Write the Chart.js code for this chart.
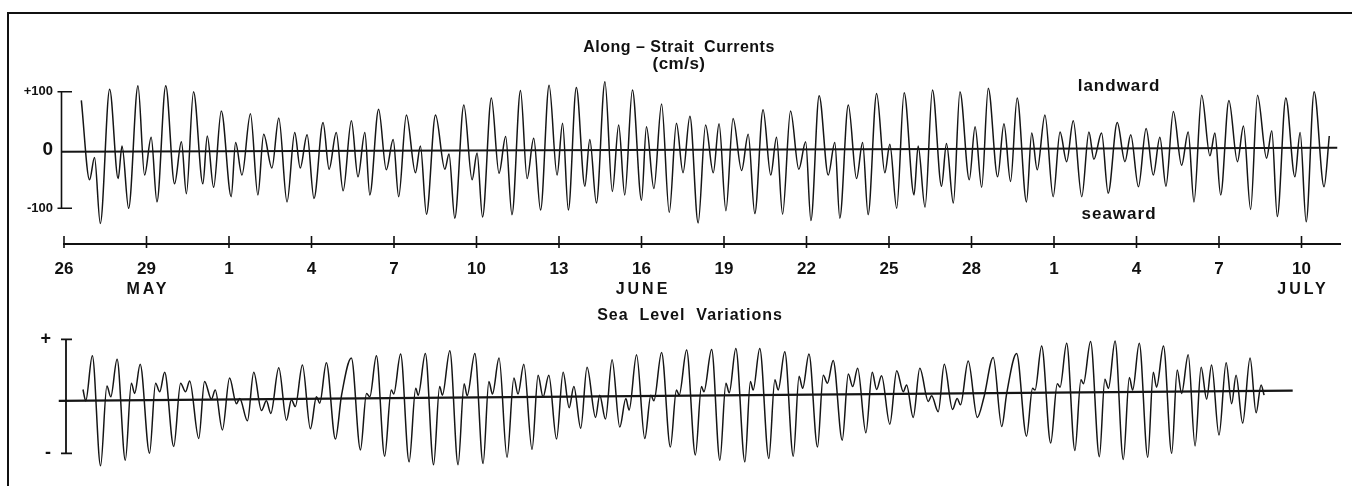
<!DOCTYPE html>
<html>
<head>
<meta charset="utf-8">
<script src="https://cdn.jsdelivr.net/npm/chart.js@4.4.0/dist/chart.umd.min.js"></script>
<style>
  html, body { margin: 0; padding: 0; background: #fff; }
  body { width: 1352px; height: 486px; position: relative; overflow: hidden; }
  #frame { position: absolute; left: 7px; top: 12px; width: 1343px; height: 472px; border-top: 2px solid #111; border-left: 2px solid #111; }
  #topBox { position: absolute; left: 0; top: 0; width: 1352px; height: 300px; }
  #seaBox { position: absolute; left: 0; top: 300px; width: 1352px; height: 200px; }
</style>
</head>
<body>
<div id="frame"></div>
<div id="topBox"><canvas id="currentChart"></canvas></div>
<div id="seaBox"><canvas id="seaChart"></canvas></div>
<script>
// Along-strait current, turning points (days after 26 May, cm/s)
var currentDays = [0.63,0.93,1.11,1.32,1.66,1.97,2.11,2.35,2.69,2.93,3.17,3.38,3.70,4.02,4.27,4.45,4.71,5.05,5.21,5.44,
  5.72,6.08,6.24,6.47,6.78,7.05,7.26,7.56,7.81,8.11,8.39,8.59,8.84,9.09,9.42,9.64,9.90,10.15,10.45,10.69,
  10.94,11.12,11.44,11.72,11.97,12.17,12.45,12.78,12.96,13.18,13.51,13.85,14.00,14.21,14.54,14.84,15.02,15.22,15.54,15.82,
  16.06,16.29,16.60,16.84,17.08,17.33,17.64,17.93,18.13,18.34,18.63,18.94,19.12,19.36,19.67,19.94,20.17,20.39,20.67,21.00,
  21.18,21.45,21.73,22.01,22.27,22.51,22.76,23.06,23.33,23.61,23.82,24.07,24.33,24.64,24.88,25.12,25.42,25.70,25.91,26.13,
  26.42,26.72,26.97,27.16,27.46,27.79,28.03,28.21,28.52,28.82,29.04,29.24,29.55,29.85,30.03,30.28,30.55,30.91,31.06,31.31,
  31.58,31.91,32.09,32.34,32.58,32.92,33.13,33.37,33.61,33.95,34.18,34.42,34.66,35.00,35.19,35.39,35.67,35.97,36.22,36.46,
  36.70,37.01,37.27,37.45,37.73,37.97,38.30,38.58,38.79,39.07,39.35,39.61,39.85,40.07,40.34,40.64,40.88,41.09,41.37,41.67,
  41.85,42.06,42.36,42.67,42.89,43.15,43.40,43.73,43.92,44.12,44.43,44.76,44.95,45.17,45.46,45.82,46.01];
var currentSpeeds = [85,-51,-13,-126,104,-49,7,-100,110,-43,22,-89,110,-58,14,-75,100,-58,24,-64,
  67,-80,13,-43,62,-77,27,-31,55,-89,30,-31,26,-83,47,-33,30,-70,50,-46,
  30,-77,70,-34,18,-80,60,-39,7,-110,60,-33,-7,-117,77,-51,-5,-115,89,-40,
  23,-111,102,-49,20,-103,111,-43,46,-103,107,-62,18,-91,117,-71,43,-77,103,-86,
  40,-66,79,-107,46,-39,58,-125,43,-39,45,-104,54,-35,27,-109,69,-43,22,-110,
  67,-33,14,-121,93,-43,13,-117,77,-49,13,-111,97,-39,10,-100,98,-77,7,-98,
  103,-62,11,-91,100,-51,40,-64,106,-46,45,-54,89,-89,29,-34,60,-80,31,-20,
  50,-80,31,-16,29,-74,47,-20,26,-63,37,-43,22,-62,66,-26,31,-89,94,-10,
  29,-77,85,-20,41,-102,94,-14,33,-114,89,-46,30,-123,100,-63,24];
var currentZeroDays = [-0.1, 46.3];
var currentZeroSpeeds = [-3, 4];

// Sea level, turning points (days after 26 May, units of the +/- bar)
var seaDays = [0.69,0.79,1.03,1.33,1.56,1.70,1.93,2.23,2.45,2.57,2.77,3.11,3.33,3.48,3.66,3.99,4.24,4.42,4.57,4.90,
  5.11,5.36,5.50,5.76,6.02,6.27,6.39,6.67,6.90,7.18,7.36,7.52,7.81,8.09,8.27,8.41,8.67,8.96,9.18,9.30,
  9.54,9.87,10.09,10.45,10.78,11.00,11.12,11.36,11.66,11.90,11.99,12.24,12.55,12.79,12.88,13.14,13.44,13.66,13.76,14.03,
  14.33,14.55,14.66,14.94,15.24,15.45,15.58,15.82,16.11,16.36,16.51,16.72,17.02,17.24,17.42,17.63,17.91,18.15,18.37,18.54,
  18.79,19.02,19.33,19.48,19.69,19.93,20.21,20.43,20.55,20.82,21.12,21.34,21.45,21.73,22.05,22.27,22.37,22.64,22.96,23.18,
  23.27,23.55,23.85,24.07,24.19,24.43,24.76,24.96,25.06,25.30,25.63,25.85,25.97,26.21,26.52,26.73,26.86,27.09,27.40,27.61,
  27.76,27.97,28.30,28.52,28.68,28.86,29.16,29.39,29.55,29.73,30.03,30.28,30.52,30.64,30.88,31.12,31.43,31.55,31.79,32.01,
  32.31,32.48,32.60,32.88,33.21,33.45,33.79,34.10,34.28,34.64,35.00,35.22,35.31,35.55,35.88,36.12,36.22,36.46,36.76,36.98,
  37.07,37.33,37.65,37.85,37.98,38.22,38.52,38.74,38.86,39.10,39.41,39.61,39.73,39.98,40.28,40.48,40.64,40.88,41.13,41.35,
  41.55,41.73,42.00,42.26,42.46,42.62,42.86,43.13,43.35,43.53,43.64];
var seaLevels = [0.12,-0.08,0.71,-1.22,0.18,-0.01,0.65,-1.12,0.23,0.05,0.56,-1.00,0.23,0.08,0.42,-0.88,0.23,0.08,0.27,-0.74,
  0.26,-0.05,0.11,-0.59,0.32,-0.13,-0.04,-0.43,0.42,-0.25,-0.08,-0.30,0.50,-0.42,-0.06,-0.18,0.55,-0.57,-0.01,-0.12,
  0.59,-0.75,0.01,0.67,-0.94,0.05,-0.01,0.71,-1.05,0.11,0.04,0.74,-1.15,0.14,0.02,0.75,-1.20,0.17,0.02,0.80,
  -1.20,0.22,0.01,0.75,-1.18,0.26,0.04,0.67,-1.07,0.32,0.04,0.56,-0.93,0.37,-0.01,0.37,-0.75,0.42,-0.20,0.17,
  -0.56,0.51,-0.37,0.02,-0.40,0.64,-0.54,-0.04,-0.24,0.73,-0.74,0.02,-0.08,0.77,-0.89,0.11,0.02,0.81,-1.03,0.17,
  0.08,0.82,-1.12,0.23,0.06,0.84,-1.15,0.26,0.11,0.84,-1.09,0.29,0.11,0.78,-1.05,0.35,0.14,0.74,-0.89,0.37,
  0.23,0.63,-0.77,0.39,0.17,0.49,-0.64,0.42,0.12,0.36,-0.49,0.45,0.08,0.20,-0.37,0.49,-0.09,0.01,-0.27,0.56,
  -0.23,-0.04,-0.15,0.62,-0.37,-0.02,0.68,-0.53,0.05,0.75,-0.70,0.14,0.11,0.88,-0.82,0.22,0.16,0.93,-0.95,0.29,
  0.22,0.96,-1.06,0.30,0.14,0.97,-1.11,0.33,0.11,0.93,-1.07,0.42,0.16,0.88,-1.00,0.46,0.05,0.73,-0.87,0.51,
  -0.05,0.55,-0.68,0.59,-0.13,0.37,-0.47,0.67,-0.29,0.20,0.02];
var seaZeroDays = [-0.19, 44.68];
var seaZeroLevels = [-0.08, 0.10];

// Axis ticks
var dateTicks = [0, 3, 6, 9, 12, 15, 18, 21, 24, 27, 30, 33, 36, 39, 42, 45];
var dateLabels = ['26', '29', '1', '4', '7', '10', '13', '16', '19', '22', '25', '28', '1', '4', '7', '10'];
var monthNames = ['MAY', 'JUNE', 'JULY'];
var monthDays = [3, 21, 45];
var currentTicks = [100, 0, -100];
var currentTickLabels = ['+100', '0', '-100'];
var seaTicks = [1, -1];
var seaTickLabels = ['+', '-'];

var FONT = '"Liberation Sans", Arial, sans-serif';
Chart.defaults.font.family = FONT;
Chart.defaults.color = '#111';

function toPoints(xs, ys) {
    return xs.map(function(x, i) { return { x: x, y: ys[i] }; });
}

function traceSet(xs, ys, width) {
    return {
        data: toPoints(xs, ys),
        borderColor: '#151515',
        borderWidth: width,
        pointRadius: 0,
        cubicInterpolationMode: 'monotone',
        fill: false,
        clip: false
    };
}

var currentDecor = {
    id: 'currentDecor',
    afterDraw: function(chart) {
        var ctx = chart.ctx, xs = chart.scales.x, ys = chart.scales.y, area = chart.chartArea;
        ctx.save();
        ctx.strokeStyle = '#111';
        ctx.fillStyle = '#111';
        // bracket of the speed axis
        var bx = area.left - 2.5, yTop = ys.getPixelForValue(100), yBot = ys.getPixelForValue(-100);
        ctx.lineWidth = 1.6;
        ctx.beginPath();
        ctx.moveTo(bx - 4, yTop); ctx.lineTo(area.left + 8, yTop);
        ctx.moveTo(bx, yTop); ctx.lineTo(bx, yBot);
        ctx.moveTo(bx - 4, yBot); ctx.lineTo(area.left + 8, yBot);
        ctx.stroke();
        // day marks crossing the date axis
        dateTicks.forEach(function(d) {
            var px = xs.getPixelForValue(d);
            ctx.beginPath();
            ctx.moveTo(px, area.bottom - 8);
            ctx.lineTo(px, area.bottom + 4);
            ctx.stroke();
        });
        ctx.textAlign = 'center';
        ctx.textBaseline = 'middle';
        ctx.font = 'bold 16px ' + FONT;
        ctx.letterSpacing = '3px';
        monthNames.forEach(function(m, i) {
            ctx.fillText(m, xs.getPixelForValue(monthDays[i]) + 1.5, 290);
        });
        ctx.letterSpacing = '0.5px';
        ctx.font = 'bold 16px ' + FONT;
        ctx.fillText('Along \u2013 Strait  Currents', 679, 48);
        ctx.font = 'bold 17px ' + FONT;
        ctx.fillText('(cm/s)', 679, 64);
        ctx.font = 'bold 17px ' + FONT;
        ctx.letterSpacing = '1px';
        ctx.fillText('landward', 1119, 86);
        ctx.fillText('seaward', 1119, 214);
        ctx.restore();
    }
};

var seaDecor = {
    id: 'seaDecor',
    afterDraw: function(chart) {
        var ctx = chart.ctx, ys = chart.scales.y, area = chart.chartArea;
        ctx.save();
        ctx.strokeStyle = '#111';
        ctx.fillStyle = '#111';
        var bx = area.left + 2, yTop = ys.getPixelForValue(1), yBot = ys.getPixelForValue(-1);
        ctx.lineWidth = 1.8;
        ctx.beginPath();
        ctx.moveTo(bx - 5, yTop); ctx.lineTo(bx + 6, yTop);
        ctx.moveTo(bx, yTop); ctx.lineTo(bx, yBot);
        ctx.moveTo(bx - 5, yBot); ctx.lineTo(bx + 6, yBot);
        ctx.stroke();
        ctx.textAlign = 'center';
        ctx.textBaseline = 'middle';
        ctx.font = 'bold 16px ' + FONT;
        ctx.letterSpacing = '1px';
        ctx.fillText('Sea  Level  Variations', 690, 16);
        ctx.restore();
    }
};

new Chart(document.getElementById('currentChart'), {
    type: 'line',
    data: {
        datasets: [
            traceSet(currentDays, currentSpeeds, 1.5),
            traceSet(currentZeroDays, currentZeroSpeeds, 2)
        ]
    },
    options: {
        responsive: true,
        maintainAspectRatio: false,
        animation: false,
        events: [],
        layout: { padding: { top: 70, right: 12, bottom: 0, left: 0 } },
        plugins: { legend: { display: false }, tooltip: { enabled: false }, title: { display: false } },
        scales: {
            x: {
                type: 'linear',
                min: 0,
                max: 46.4,
                afterFit: function(s) { s.height = 56; },
                afterBuildTicks: function(s) { s.ticks = dateTicks.map(function(v) { return { value: v }; }); },
                grid: { display: true, drawOnChartArea: false, drawTicks: false },
                border: { display: true, color: '#111', width: 2 },
                ticks: {
                    padding: 15,
                    maxRotation: 0,
                    autoSkip: false,
                    font: { size: 17, weight: 'bold' },
                    callback: function(value) {
                        var i = dateTicks.indexOf(value);
                        return i >= 0 ? dateLabels[i] : '';
                    }
                }
            },
            y: {
                min: -161.2,
                max: 137.2,
                afterFit: function(s) { s.width = 64; },
                afterBuildTicks: function(s) { s.ticks = currentTicks.map(function(v) { return { value: v }; }); },
                grid: { display: false, drawTicks: false },
                border: { display: false },
                ticks: {
                    padding: 11,
                    font: function(c) {
                        return c.tick && c.tick.value === 0 ? { size: 19, weight: 'bold' } : { size: 13, weight: 'bold' };
                    },
                    callback: function(value) {
                        var i = currentTicks.indexOf(value);
                        return i >= 0 ? currentTickLabels[i] : '';
                    }
                }
            }
        }
    },
    plugins: [currentDecor]
});

new Chart(document.getElementById('seaChart'), {
    type: 'line',
    data: {
        datasets: [
            traceSet(seaDays, seaLevels, 1.5),
            traceSet(seaZeroDays, seaZeroLevels, 2.2)
        ]
    },
    options: {
        responsive: true,
        maintainAspectRatio: false,
        animation: false,
        events: [],
        layout: { padding: { top: 24, right: 12, bottom: 24, left: 0 } },
        plugins: { legend: { display: false }, tooltip: { enabled: false }, title: { display: false } },
        scales: {
            x: {
                type: 'linear',
                display: false,
                min: 0,
                max: 46.4
            },
            y: {
                min: -1.398,
                max: 1.268,
                afterFit: function(s) { s.width = 64; },
                afterBuildTicks: function(s) { s.ticks = seaTicks.map(function(v) { return { value: v }; }); },
                grid: { display: false, drawTicks: false },
                border: { display: false },
                ticks: {
                    padding: 13,
                    font: { size: 18, weight: 'bold' },
                    callback: function(value) {
                        var i = seaTicks.indexOf(value);
                        return i >= 0 ? seaTickLabels[i] : '';
                    }
                }
            }
        }
    },
    plugins: [seaDecor]
});
</script>
</body>
</html>
